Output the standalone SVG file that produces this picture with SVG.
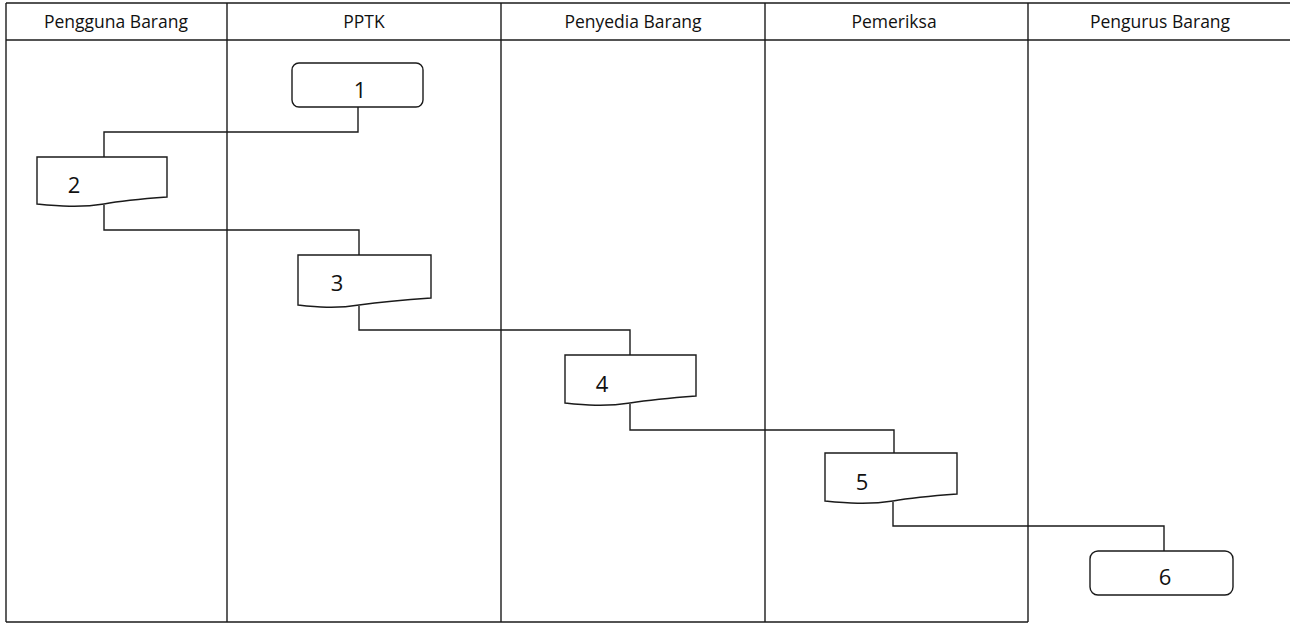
<svg xmlns="http://www.w3.org/2000/svg" width="1290" height="623" viewBox="0 0 1290 623">
<style>
.grid{stroke:#1a1a1a;stroke-width:1.4;fill:none}
.hdr{font-family:"Open Sans","Liberation Sans",sans-serif;font-size:17.5px;fill:#111;text-anchor:middle}
.shape{fill:#fff;stroke:#1a1a1a;stroke-width:1.4}
.lbl{font-family:"Open Sans","Liberation Sans",sans-serif;font-size:22px;fill:#111;text-anchor:middle}
.conn{stroke:#1a1a1a;stroke-width:1.4;fill:none}
</style>
<rect width="1290" height="623" fill="#fff"/>
<g id="lanes">
<line class="grid" x1="6" y1="3" x2="1290" y2="3"/>
<line class="grid" x1="6" y1="40" x2="1290" y2="40"/>
<line class="grid" x1="6" y1="622" x2="1028" y2="622"/>
<line class="grid" x1="6" y1="3" x2="6" y2="622"/>
<line class="grid" x1="227" y1="3" x2="227" y2="622"/>
<line class="grid" x1="501" y1="3" x2="501" y2="622"/>
<line class="grid" x1="765" y1="3" x2="765" y2="622"/>
<line class="grid" x1="1028" y1="3" x2="1028" y2="622"/>
<text class="hdr" x="116" y="28">Pengguna Barang</text>
<text class="hdr" x="364" y="28">PPTK</text>
<text class="hdr" x="633" y="28">Penyedia Barang</text>
<text class="hdr" x="894" y="28">Pemeriksa</text>
<text class="hdr" x="1160" y="28">Pengurus Barang</text>
</g>
<g id="connectors">
<polyline class="conn" points="358,107 358,132 104,132 104,157"/>
<polyline class="conn" points="104,205 104,230 359,230 359,255"/>
<polyline class="conn" points="359,306 359,330 630,330 630,355"/>
<polyline class="conn" points="630,404 630,430 894,430 894,453"/>
<polyline class="conn" points="893,502 893,526 1164,526 1164,551"/>
</g>
<g id="node1">
<rect class="shape" x="292" y="63" width="131" height="44" rx="7"/>
<text class="lbl" x="360" y="98">1</text>
</g>
<g id="node2">
<path class="shape" d="M37,157 H167 V197 C140,199 120,201 104,204 C80,208 58,206 37,204 Z"/>
<text class="lbl" x="74" y="193">2</text>
</g>
<g id="node3">
<path class="shape" d="M298,255 H431 V298 C404,300 382,302 359,305 C336,309 316,307 298,305 Z"/>
<text class="lbl" x="337" y="291">3</text>
</g>
<g id="node4">
<path class="shape" d="M565,355 H696 V396 C669,398 649,400 630,403 C605,407 584,405 565,403 Z"/>
<text class="lbl" x="602" y="392">4</text>
</g>
<g id="node5">
<path class="shape" d="M825,453 H957 V494 C930,496 910,498 893,501 C868,505 846,503 825,501 Z"/>
<text class="lbl" x="862" y="490">5</text>
</g>
<g id="node6">
<rect class="shape" x="1090" y="551" width="143" height="44" rx="8"/>
<text class="lbl" x="1165" y="585">6</text>
</g>
</svg>
